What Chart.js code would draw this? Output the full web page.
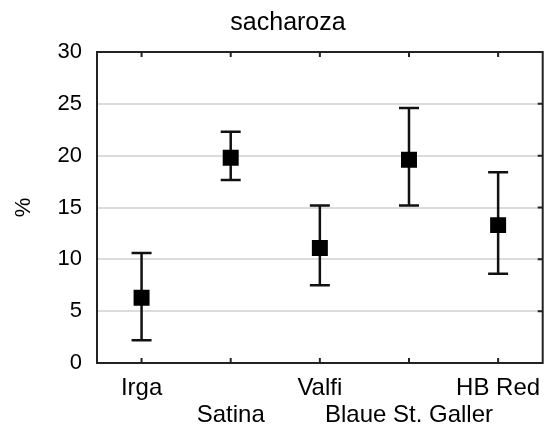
<!DOCTYPE html>
<html>
<head>
<meta charset="utf-8">
<script src="https://cdn.jsdelivr.net/npm/chart.js@4/dist/chart.umd.min.js"></script>
<style>
html,body{margin:0;padding:0;background:#fff;}
#wrap{width:554px;height:431px;}
</style>
</head>
<body>
<div id="wrap"><canvas id="c" width="554" height="431"></canvas></div>
<script>
const categories = ['Irga', 'Satina', 'Valfi', 'Blaue St. Galler', 'HB Red'];
const means = [6.3, 19.8, 11.1, 19.6, 13.3];
const upper = [10.6, 22.3, 15.2, 24.6, 18.4];
const lower = [2.2, 17.65, 7.5, 15.2, 8.6];
const yTicks = [0, 5, 10, 15, 20, 25, 30];

const FONT = '"Liberation Sans", Arial, sans-serif';

const errorBars = {
  id: 'errorBars',
  beforeDatasetsDraw(chart) {
    const ctx = chart.ctx, xs = chart.scales.x, ys = chart.scales.y;
    ctx.save();
    ctx.strokeStyle = '#111';
    ctx.lineWidth = 2.5;
    for (let i = 0; i < categories.length; i++) {
      const x = xs.getPixelForValue(i);
      const yt = ys.getPixelForValue(upper[i]);
      const yb = ys.getPixelForValue(lower[i]);
      const cap = 10;
      ctx.beginPath();
      ctx.moveTo(x, yt); ctx.lineTo(x, yb);
      ctx.moveTo(x - cap, yt); ctx.lineTo(x + cap, yt);
      ctx.moveTo(x - cap, yb); ctx.lineTo(x + cap, yb);
      ctx.stroke();
    }
    ctx.restore();
  }
};

const frame = {
  id: 'frame',
  afterDraw(chart) {
    const ctx = chart.ctx, a = chart.chartArea, xs = chart.scales.x, ys = chart.scales.y;
    ctx.save();
    ctx.strokeStyle = '#222';
    ctx.lineWidth = 2;
    ctx.strokeRect(a.left, a.top, a.right - a.left, a.bottom - a.top);
    ctx.beginPath();
    for (let i = 0; i < categories.length; i++) {
      const x = xs.getPixelForValue(i);
      ctx.moveTo(x, a.bottom); ctx.lineTo(x, a.bottom - 5);
      ctx.moveTo(x, a.top); ctx.lineTo(x, a.top + 5);
    }
    yTicks.forEach(v => {
      if (v > 0 && v < 30) {
        const y = ys.getPixelForValue(v);
        ctx.moveTo(a.right, y); ctx.lineTo(a.right - 5, y);
      }
    });
    ctx.stroke();
    ctx.restore();
  }
};

new Chart(document.getElementById('c'), {
  type: 'line',
  data: {
    labels: categories,
    datasets: [{
      data: means,
      showLine: false,
      pointStyle: 'rect',
      pointRadius: 11.3,
      pointHoverRadius: 11.3,
      backgroundColor: '#000',
      borderColor: '#000',
      borderWidth: 0
    }]
  },
  options: {
    responsive: false,
    animation: false,
    events: [],
    layout: { padding: { left: 24, right: 2, top: 0, bottom: 0 } },
    plugins: {
      legend: { display: false },
      tooltip: { enabled: false },
      title: {
        display: true,
        text: 'sacharoza',
        color: '#000',
        font: { family: FONT, size: 25, weight: 'normal', lineHeight: 1.2 },
        padding: { top: 8, bottom: 14 }
      }
    },
    scales: {
      x: {
        type: 'category',
        offset: true,
        border: { display: false },
        grid: { display: false, drawTicks: false },
        afterFit(s) { s.height = 68; },
        ticks: {
          autoSkip: false,
          maxRotation: 0,
          minRotation: 0,
          padding: 12,
          color: '#000',
          font: { family: FONT, size: 24, lineHeight: 1.125 },
          callback(value, index) {
            const l = categories[index];
            return index % 2 === 0 ? [l, ''] : ['', l];
          }
        }
      },
      y: {
        min: 0,
        max: 30,
        border: { display: false },
        afterFit(s) { s.width = 73; },
        afterBuildTicks(s) { s.ticks = yTicks.map(v => ({ value: v })); },
        grid: { color: '#dcdcdc', lineWidth: 2, drawTicks: false },
        ticks: {
          padding: 15,
          color: '#000',
          font: { family: FONT, size: 22 }
        },
        title: {
          display: true,
          text: '%',
          color: '#000',
          font: { family: FONT, size: 22, lineHeight: 1.2 },
          padding: { top: -13, bottom: 0 }
        }
      }
    }
  },
  plugins: [errorBars, frame]
});
</script>
</body>
</html>
